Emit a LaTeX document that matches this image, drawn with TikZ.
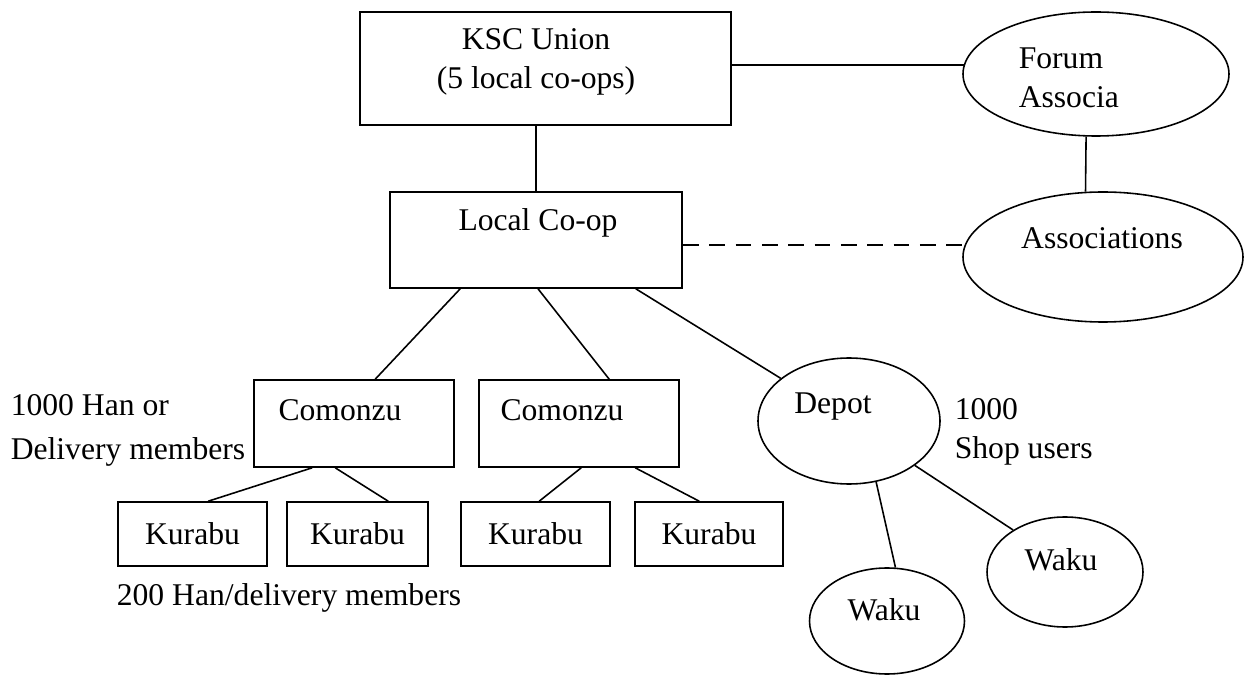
\documentclass[tikz,border=0pt]{standalone}
\usepackage{fontspec}
\setmainfont{Liberation Serif}
\usetikzlibrary{shapes.geometric}
\usetikzlibrary{calc}

\begin{document}
\begin{tikzpicture}[x=0.02cm,y=-0.02cm,line width=0.9pt,font=\fontsize{18}{22}\selectfont,
	box/.style 2 args={draw,rectangle,inner sep=0pt,minimum width=#1*0.02cm,minimum height=#2*0.02cm},
	oval/.style 2 args={draw,ellipse,inner sep=0pt,minimum width=#1*0.02cm,minimum height=#2*0.02cm},
	lbl/.style={inner sep=0pt},
	dashline/.style={dash pattern=on 9pt off 6pt}]
	\useasboundingbox (0,0) rectangle (1245,675);
	\node[box={371}{113}] (ksc) at (545.5,68.5) {};
	\node[lbl,align=center] (ksctext) at (536,62) {KSC Union\\(5 local co-ops)};
	\node[oval={266}{124}] (forum) at (1096,74) {};
	\node[lbl,align=left,anchor=west] (forumtext) at (1018,77.5) {Forum\\Associa};
	\node[oval={280}{130}] (assoc) at (1103,257) {};
	\node[lbl] (assoctext) at (1102,238) {Associations};
	\node[box={292}{96}] (local) at (536,240) {};
	\node[lbl] (localtext) at (538,223) {Local Co-op};
	\node[box={200}{87}] (c1) at (354,423.5) {};
	\node[box={200}{87}] (c2) at (579,423.5) {};
	\node[lbl] (c1text) at (340,410) {Comonzu};
	\node[lbl] (c2text) at (562,410) {Comonzu};
	\node[oval={182}{126}] (depot) at (849,421) {};
	\node[lbl] (depottext) at (833,407) {Depot};
	\foreach \n/\x/\w in {1/192.5/149,2/357.5/141,3/535.5/149,4/709/148}
		{\node[box={\w}{64}] (k\n) at (\x,534) {Kurabu};};
	\node[oval={155}{106}] (w1) at (887,621) {};
	\node[lbl] (w1text) at (884,610) {Waku};
	\node[oval={156}{110}] (w2) at (1065,572) {};
	\node[lbl] (w2text) at (1061,560) {Waku};
	\node[lbl,align=left,anchor=west] (hantext) at (10,430) {1000 Han or\\[3pt]Delivery members};
	\node[lbl,align=left,anchor=west] (shoptext) at (954,432) {1000\\Shop users};
	\node[lbl] (kurabutext) at (289,598) {200 Han/delivery members};
	\draw (ksc.south -| local.north) -- (local.north);
	\draw (ksc.east |- forum.176) -- (forum.176);
	\draw (forum.261) -- (assoc.105);
	\draw[dashline] (local.east |- assoc.175) -- (assoc.175);
	\draw ($(local.south west)+(71,0)$) -- ($(c1.north west)+(122,0)$);
	\draw ($(local.south)+(2,0)$) -- ($(c2.north west)+(131,0)$);
	\draw ($(local.south east)+(-47,0)$) -- (depot.148);
	\draw ($(c1.south west)+(59,0)$) -- ($(k1.north west)+(91,0)$);
	\draw ($(c1.south west)+(82,0)$) -- ($(k2.north west)+(102,0)$);
	\draw ($(c2.south west)+(103,0)$) -- ($(k3.north west)+(79,0)$);
	\draw ($(c2.south west)+(157,0)$) -- ($(k4.north west)+(65,0)$);
	\draw (depot.294) -- (w1.81);
	\draw (depot.326) -- (w2.141);
\end{tikzpicture}
\end{document}
